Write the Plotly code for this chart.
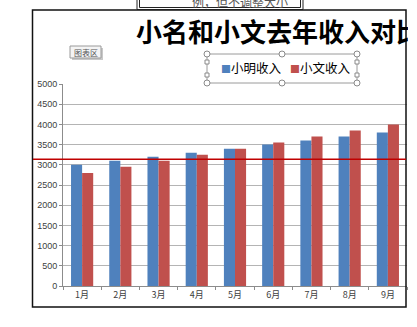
import plotly.graph_objects as go

# ---- data ----
months = ["1月", "2月", "3月", "4月", "5月", "6月", "7月", "8月", "9月"]
series_names = ["小明收入", "小文收入"]
xiaoming = [3000, 3100, 3200, 3300, 3400, 3500, 3600, 3700, 3800]
xiaowen = [2800, 2950, 3100, 3250, 3400, 3550, 3700, 3850, 4000]
ref_line_value = 3135
y_ticks = [0, 500, 1000, 1500, 2000, 2500, 3000, 3500, 4000, 4500, 5000]
title_text = "小名和小文去年收入对比"
top_box_text = "例，但不调整大小"
chart_area_label = "图表区"

colors = ["#4F81BD", "#C0504D"]

W, H = 408, 327
L, R, T, B = 63, 1, 84, 41
PW = W - L - R
PH = H - T - B


def px(x):
    return (x - L) / PW


def py(y):
    return (H - B - y) / PH


CJK = "Noto Sans CJK SC"

fig = go.Figure()
fig.add_bar(x=months, y=xiaoming, name=series_names[0], marker_color=colors[0],
            marker_line_width=0, showlegend=False)
fig.add_bar(x=months, y=xiaowen, name=series_names[1], marker_color=colors[1],
            marker_line_width=0, showlegend=False)

shapes = []
# chart border
shapes.append(dict(type="rect", xref="paper", yref="paper", x0=px(32.5), x1=px(406),
                   y0=py(307), y1=py(10), line=dict(color="#111111", width=1.5), layer="above"))
# red reference line
shapes.append(dict(type="line", xref="paper", yref="y", x0=px(33), x1=px(406),
                   y0=ref_line_value, y1=ref_line_value,
                   line=dict(color="#C00000", width=1.5), layer="above"))
# top text box (double border)
shapes.append(dict(type="rect", xref="paper", yref="paper", x0=px(137), x1=px(303),
                   y0=py(9.5), y1=py(-5), line=dict(color="#222222", width=1)))
shapes.append(dict(type="rect", xref="paper", yref="paper", x0=px(139.5), x1=px(300.5),
                   y0=py(7.5), y1=py(-5), line=dict(color="#222222", width=1)))
# legend selection box
lx0, lx1, ly0, ly1 = 207, 357, 54, 83
shapes.append(dict(type="rect", xref="paper", yref="paper", x0=px(lx0), x1=px(lx1),
                   y0=py(ly1), y1=py(ly0), line=dict(color="#9a9a9a", width=1)))
for hx in (lx0, (lx0 + lx1) / 2, lx1):
    for hy in (ly0, ly1):
        shapes.append(dict(type="circle", xref="paper", yref="paper",
                           xsizemode="pixel", ysizemode="pixel",
                           xanchor=px(hx), yanchor=py(hy), x0=-3, x1=3, y0=-3, y1=3,
                           fillcolor="white", line=dict(color="#8a8a8a", width=1)))
for hx in (lx0, lx1):
    for hy in (62, 75):
        shapes.append(dict(type="rect", xref="paper", yref="paper",
                           xsizemode="pixel", ysizemode="pixel",
                           xanchor=px(hx), yanchor=py(hy), x0=-2, x1=2, y0=-2, y1=2,
                           fillcolor="white", line=dict(color="#8a8a8a", width=1)))
# chart-area tooltip shadow + box
shapes.append(dict(type="rect", xref="paper", yref="paper", x0=px(72), x1=px(103),
                   y0=py(60), y1=py(48), fillcolor="#c8c8c8", line=dict(width=0)))
shapes.append(dict(type="rect", xref="paper", yref="paper", x0=px(70), x1=px(101),
                   y0=py(58), y1=py(46), fillcolor="#f4f4f4",
                   line=dict(color="#9a9a9a", width=1)))

annotations = [
    dict(text="<b>" + title_text + "</b>", xref="paper", yref="paper", x=px(134), y=py(30),
         xanchor="left", yanchor="middle", showarrow=False,
         font=dict(family=CJK, size=26, color="#000000")),
    dict(text=top_box_text, xref="paper", yref="paper", x=px(240), y=py(1),
         xanchor="center", yanchor="middle", showarrow=False,
         font=dict(family=CJK, size=12, color="#555555")),
    dict(text=chart_area_label, xref="paper", yref="paper", x=px(85.5), y=py(52),
         xanchor="center", yanchor="middle", showarrow=False,
         font=dict(family=CJK, size=8, color="#555555")),
]
leg_x = [219, 288]
for name, col, x0 in zip(series_names, colors, leg_x):
    annotations.append(dict(
        text=f'<span style="color:{col};font-size:10px">■</span>' + name,
        xref="paper", yref="paper", x=px(x0), y=py(68), xanchor="left", yanchor="middle",
        showarrow=False, font=dict(family=CJK, size=12.5, color="#000000")))

fig.update_layout(
    width=W, height=H,
    margin=dict(l=L, r=R, t=T, b=B, pad=0),
    paper_bgcolor="white", plot_bgcolor="white",
    barmode="group", bargap=0.42, bargroupgap=0,
    shapes=shapes, annotations=annotations,
    showlegend=False,
    xaxis=dict(type="category", range=[-0.5, 8.5], showgrid=False,
               showline=True, linecolor="#8c8c8c", linewidth=1,
               ticks="outside", tickson="boundaries", ticklen=3, tickcolor="#8c8c8c",
               tickfont=dict(family="Noto Sans CJK SC", size=9, color="#404040"),
               fixedrange=True),
    yaxis=dict(range=[0, 5000], tickvals=y_ticks, ticktext=[str(v) for v in y_ticks],
               showgrid=True, gridcolor="#b4b4b4", gridwidth=1,
               showline=True, linecolor="#8c8c8c", linewidth=1,
               ticks="outside", ticklen=3, tickcolor="#8c8c8c",
               tickfont=dict(family="Liberation Sans", size=9, color="#404040"),
               zeroline=False, fixedrange=True),
)

fig.write_html("out.html")
